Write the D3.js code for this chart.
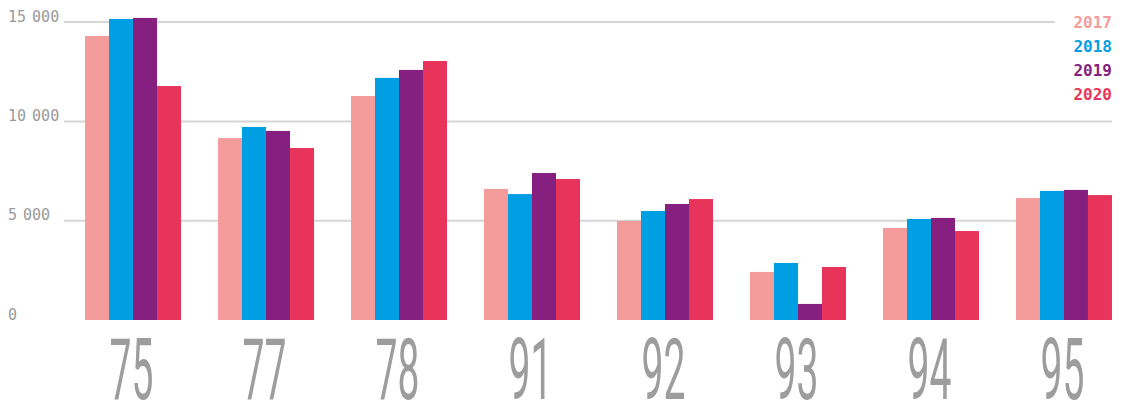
<!DOCTYPE html>
<html>
<head>
<meta charset="utf-8">
<script src="https://cdn.jsdelivr.net/npm/d3@7"></script>
<style>
  body { margin: 0; background: #fff; }
  svg { display: block; }
</style>
</head>
<body>
<svg id="chart" width="1127" height="402"></svg>
<script>
// departments (x categories)
const departments = ["75", "77", "78", "91", "92", "93", "94", "95"];
const years = ["2017", "2018", "2019", "2020"];

// values per year, one per department
const values2017 = [14300, 9160, 11280, 6600, 4990, 2420, 4630, 6140];
const values2018 = [15160, 9720, 12190, 6340, 5490, 2870, 5090, 6500];
const values2019 = [15210, 9520, 12590, 7400, 5840, 810, 5140, 6550];
const values2020 = [11780, 8660, 13040, 7100, 6090, 2670, 4480, 6290];

const yTicks = [0, 5000, 10000, 15000];
const yTickLabels = ["0", "5 000", "10 000", "15 000"];

const colors = ["#f39c9b", "#009fe3", "#851f80", "#e8345a"];

const series = [values2017, values2018, values2019, values2020];
const data = departments.map((d, i) => ({
    dep: d,
    vals: years.map((y, j) => ({ year: y, value: series[j][i] }))
}));

const width = 1127, height = 402;
const margin = { left: 64, right: 1112 };

const svg = d3.select("#chart");

let x0 = d3.scaleBand()
    .domain(departments)
    .range([64, 1133])
    .paddingInner(0.278)
    .paddingOuter(0.158);

let x1 = d3.scaleBand()
    .domain(years)
    .range([0, x0.bandwidth()]);

let y = d3.scaleLinear()
    .domain([0, 15000])
    .range([320, 22.1]);

// gridlines
svg.append("g")
    .selectAll("line").data(yTicks.filter(t => t > 0)).enter().append("line")
    .attr("x1", margin.left)
    .attr("x2", margin.right)
    .attr("y1", d => y(d))
    .attr("y2", d => y(d))
    .attr("stroke", "#d6d6d6")
    .attr("stroke-width", 2);

// y labels
svg.append("g")
    .selectAll("text").data(yTicks).enter().append("text")
    .attr("x", 8)
    .attr("y", d => y(d) - 0.5)
    .attr("font-family", "'DejaVu Sans Mono', monospace")
    .attr("font-size", 15)
    .attr("word-spacing", -3)
    .attr("fill", "#9a9a9a")
    .text((d, i) => yTickLabels[i]);

// bars
svg.append("g")
    .selectAll("g").data(data).enter().append("g")
    .attr("transform", d => `translate(${x0(d.dep)},0)`)
    .selectAll("rect").data(d => d.vals).enter().append("rect")
    .attr("x", d => x1(d.year))
    .attr("y", d => y(d.value))
    .attr("width", x1.bandwidth())
    .attr("height", d => y(0) - y(d.value))
    .attr("fill", (d, i) => colors[i]);

// x labels (tall condensed)
svg.append("g")
    .selectAll("text").data(departments).enter().append("text")
    .attr("transform", d => `translate(${x0(d) + x0.bandwidth() / 2 - 1.5},399) scale(0.46,1)`)
    .attr("text-anchor", "middle")
    .attr("font-family", "Roboto, sans-serif")
    .attr("font-weight", 400)
    .attr("font-size", 85)
    .attr("fill", "#9d9d9d")
    .text(d => d);

// legend
const legend = svg.append("g");
legend.append("rect")
    .attr("x", 1055).attr("y", 0)
    .attr("width", 72).attr("height", 105)
    .attr("fill", "#fff");
legend.selectAll("text").data(years).enter().append("text")
    .attr("x", 1112)
    .attr("y", (d, i) => 28 + i * 24)
    .attr("text-anchor", "end")
    .attr("font-family", "'DejaVu Sans Mono', monospace")
    .attr("font-weight", "bold")
    .attr("font-size", 16)
    .attr("fill", (d, i) => colors[i])
    .text(d => d);
</script>
</body>
</html>
